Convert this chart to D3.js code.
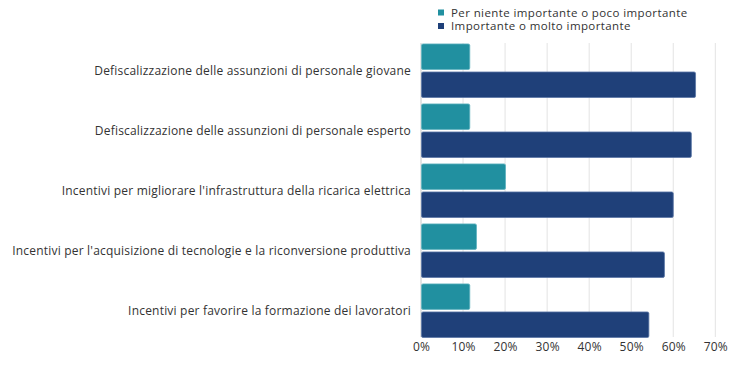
<!DOCTYPE html>
<html><head><meta charset="utf-8">
<script src="https://cdn.jsdelivr.net/npm/d3@7"></script>
<style>body{margin:0;background:#fff}svg{display:block}text{font-family:"Open Sans",sans-serif;fill:#333}</style>
</head><body><svg id="c" width="738" height="368"></svg>
<script>
const categories = [
  "Defiscalizzazione delle assunzioni di personale giovane",
  "Defiscalizzazione delle assunzioni di personale esperto",
  "Incentivi per migliorare l'infrastruttura della ricarica elettrica",
  "Incentivi per l'acquisizione di tecnologie e la riconversione produttiva",
  "Incentivi per favorire la formazione dei lavoratori"
];
const seriesNames = ["Per niente importante o poco importante", "Importante o molto importante"];
const lowImportance = [0.116, 0.116, 0.201, 0.132, 0.116];
const highImportance = [0.653, 0.643, 0.600, 0.579, 0.542];
const xTicks = [0, 0.1, 0.2, 0.3, 0.4, 0.5, 0.6, 0.7];
const colors = ["#2190a0", "#1f4079"];
const strokes = ["#5fb3bf", "#5a76a6"];

const svg = d3.select("#c");
const x = d3.scaleLinear().domain([0, 0.7]).range([421, 715.3]);
const y = d3.scaleBand().domain(categories).range([40.7, 340.7]).paddingInner(0.107).paddingOuter(0.054);
const ySub = d3.scaleBand().domain([0, 1]).range([0, y.bandwidth()]).paddingInner(0.09);

// gridlines
svg.append("g").selectAll("line").data(xTicks).join("line")
  .attr("x1", d => x(d)).attr("x2", d => x(d))
  .attr("y1", 43).attr("y2", 337)
  .attr("stroke", d => d === 0 ? "#c8c8c8" : "#e3e3e3").attr("stroke-width", 1);

const xAxis = d3.axisBottom(x).tickValues(xTicks).tickFormat(d3.format(".0%")).tickSize(0).tickPadding(0);
const gx = svg.append("g").attr("transform", "translate(0,342)").call(xAxis);
gx.select(".domain").remove();
gx.selectAll("text").attr("font-size", 12).attr("fill", "#333").attr("dy", "0.71em")
  .style("font-family", "'Open Sans',sans-serif").style("letter-spacing", "0.2px");

const data = categories.map((c, i) => ({c, v: [lowImportance[i], highImportance[i]]}));
const groups = svg.append("g").selectAll("g").data(data).join("g")
  .attr("transform", d => `translate(0,${y(d.c)})`);
groups.selectAll("rect").data(d => d.v.map((v, k) => ({v, k}))).join("rect")
  .attr("x", x(0) + 0.5).attr("y", d => ySub(d.k))
  .attr("width", d => x(d.v) - x(0) - 0.5).attr("height", ySub.bandwidth())
  .attr("rx", 1.5)
  .attr("fill", d => colors[d.k]).attr("stroke", d => strokes[d.k]).attr("stroke-width", 0.8);

const yAxis = d3.axisLeft(y).tickSize(0).tickPadding(10);
const gy = svg.append("g").attr("transform", `translate(${x(0)},0)`).call(yAxis);
gy.select(".domain").remove();
gy.selectAll("text").attr("font-size", 12).attr("fill", "#333")
  .style("font-family", "'Open Sans',sans-serif").style("letter-spacing", "0.2px");

// legend
const leg = svg.append("g").selectAll("g").data(seriesNames).join("g")
  .attr("transform", (d, i) => `translate(441,${12.5 + i * 13.5})`);
leg.append("rect").attr("x", -3).attr("y", -3).attr("width", 6).attr("height", 6).attr("fill", (d, i) => colors[i]);
leg.append("text").attr("x", 10).attr("dy", "0.35em").attr("font-size", 11.5)
  .style("letter-spacing", "0.4px").text(d => d);
</script></body></html>
